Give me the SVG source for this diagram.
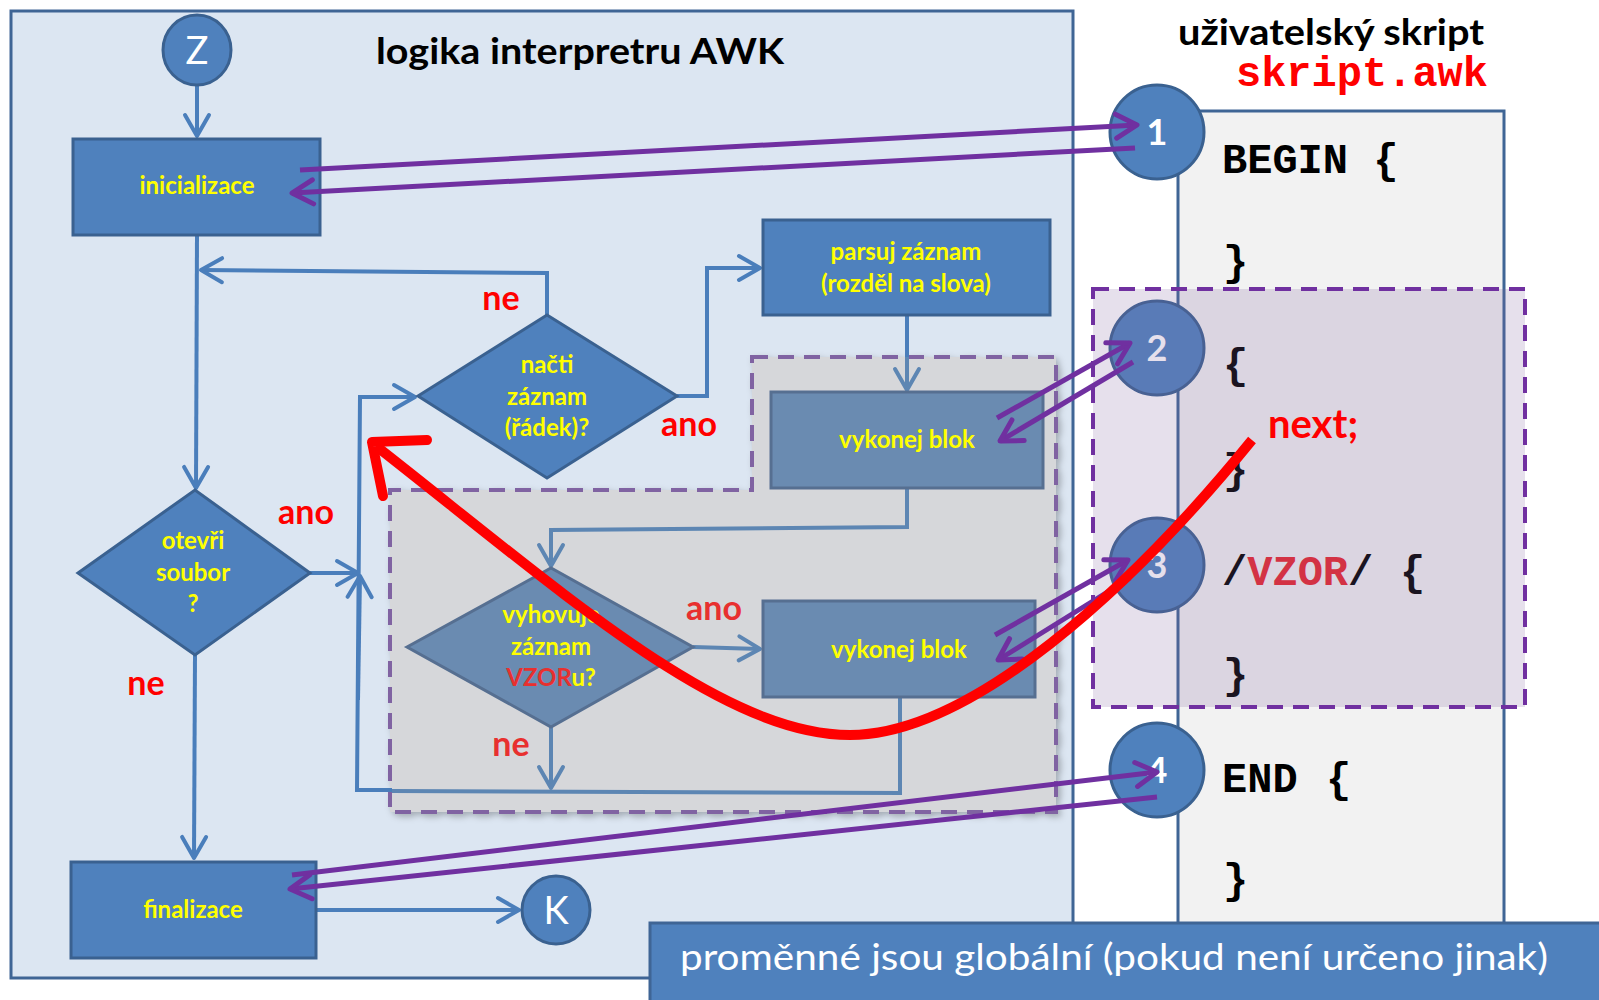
<svg xmlns="http://www.w3.org/2000/svg" width="1599" height="1000" viewBox="0 0 1599 1000">
<defs>
<style>
.bx{fill:#4f81bd;stroke:#3a6190;stroke-width:3}
.bxm{fill:#6a8bb1;stroke:#566f91;stroke-width:3}
.yt{fill:#ffff00;font-family:Lato,"Open Sans",sans-serif;font-weight:bold;font-size:24px;text-anchor:middle}
.rl{fill:#ff0000;font-family:Lato,"Open Sans",sans-serif;font-weight:bold;font-size:34px;text-anchor:middle}
.rlm{fill:#e8302f;font-family:Lato,"Open Sans",sans-serif;font-weight:bold;font-size:34px;text-anchor:middle}
.cl{fill:#4f81bd;stroke:#3a6190;stroke-width:3}
.ct{fill:#ffffff;font-family:Lato,"Open Sans",sans-serif;font-size:38px;text-anchor:middle}
.cn{fill:#ffffff;font-family:Lato,"Open Sans",sans-serif;font-weight:bold;font-size:36px;text-anchor:middle}
.code{fill:#000000;font-family:"Liberation Mono","Courier New",monospace;font-weight:bold;font-size:42px}
.ln{fill:none;stroke:#4a7ebb;stroke-width:4}
.lnm{fill:none;stroke:#5d86b3;stroke-width:4}
.pa{fill:none;stroke:#7030a0;stroke-width:5}
.ttl{fill:#000000;font-family:Lato,"Open Sans",sans-serif;font-weight:bold;font-size:36px}
</style>
<marker id="ab" viewBox="0 0 30 30" refX="27" refY="15" markerWidth="30" markerHeight="30" markerUnits="userSpaceOnUse" orient="auto">
<path d="M6,3 L27,15 L6,27" fill="none" stroke="#4a7ebb" stroke-width="4" stroke-linecap="round" stroke-linejoin="round"/>
</marker>
<marker id="abm" viewBox="0 0 30 30" refX="27" refY="15" markerWidth="30" markerHeight="30" markerUnits="userSpaceOnUse" orient="auto">
<path d="M6,3 L27,15 L6,27" fill="none" stroke="#5d86b3" stroke-width="4" stroke-linecap="round" stroke-linejoin="round"/>
</marker>
<marker id="ap" viewBox="0 0 30 30" refX="27" refY="15" markerWidth="30" markerHeight="30" markerUnits="userSpaceOnUse" orient="auto">
<path d="M6,3 L27,15 L6,27" fill="none" stroke="#7030a0" stroke-width="5" stroke-linecap="round" stroke-linejoin="round"/>
</marker>
<filter id="sh" x="-5%" y="-5%" width="110%" height="110%">
<feDropShadow dx="3" dy="3" stdDeviation="3" flood-color="#000000" flood-opacity="0.25"/>
</filter>
</defs>
<rect width="1599" height="1000" fill="#ffffff"/>
<g id="panel-left">
<rect x="11" y="11" width="1062" height="967" fill="#dce6f2" stroke="#3f6595" stroke-width="3"/>
<text class="ttl" x="376" y="64" textLength="408" lengthAdjust="spacingAndGlyphs">logika interpretru AWK</text>
</g>
<g id="region-inner" filter="url(#sh)">
<path d="M752,357 L1056,357 L1056,812 L390,812 L390,490 L752,490 Z" fill="#d6d7da" stroke="#8064a2" stroke-width="4" stroke-dasharray="16 10"/>
</g>
<g id="connectors">
<path class="ln" d="M197,86 L197,136" marker-end="url(#ab)"/>
<path class="ln" d="M197,235 L196,488" marker-end="url(#ab)"/>
<path class="ln" d="M547,315 L547,273 L201,270" marker-end="url(#ab)"/>
<path class="ln" d="M310,573 L358,573" marker-end="url(#ab)"/>
<path class="ln" d="M392,790 L357,790 L360,397 L415,397" marker-end="url(#ab)"/>
<path class="ln" d="M358,700 L360,576" marker-end="url(#ab)"/>
<path class="ln" d="M195,655 L194,858" marker-end="url(#ab)"/>
<path class="ln" d="M677,396 L707,396 L707,268 L760,268" marker-end="url(#ab)"/>
<path class="ln" d="M907,315 L907,357"/>
<path class="lnm" d="M907,357 L907,390" marker-end="url(#abm)"/>
<path class="lnm" d="M907,488 L907,527 L551,530 L551,566" marker-end="url(#abm)"/>
<path class="lnm" d="M693,647 L760,649" marker-end="url(#abm)"/>
<path class="lnm" d="M551,727 L551,788" marker-end="url(#abm)"/>
<path class="lnm" d="M900,697 L900,793 L392,791"/>
<path class="ln" d="M316,910 L519,910" marker-end="url(#ab)"/>
</g>
<g id="node-Z">
<ellipse class="cl" cx="197" cy="50" rx="34" ry="35"/>
<text class="ct" x="197" y="64">Z</text>
</g>
<g id="node-inicializace">
<rect class="bx" x="73" y="139" width="247" height="96"/>
<text class="yt" x="197" y="194">inicializace</text>
</g>
<g id="node-otevri">
<path class="bx" d="M78,573 L195,490 L310,573 L195,655 Z"/>
<text class="yt" x="193" y="549">otevři</text>
<text class="yt" x="193" y="581">soubor</text>
<text class="yt" x="193" y="612">?</text>
</g>
<g id="node-nacti">
<path class="bx" d="M418,396 L547,315 L677,396 L547,478 Z"/>
<text class="yt" x="547" y="373">načti</text>
<text class="yt" x="547" y="405">záznam</text>
<text class="yt" x="547" y="436">(řádek)?</text>
</g>
<g id="node-parsuj">
<rect class="bx" x="763" y="220" width="287" height="95"/>
<text class="yt" x="906" y="260">parsuj záznam</text>
<text class="yt" x="906" y="292">(rozděl na slova)</text>
</g>
<g id="node-vykonej1">
<rect class="bxm" x="771" y="392" width="272" height="96"/>
<text class="yt" x="907" y="448">vykonej blok</text>
</g>
<g id="node-vyhovuje">
<path class="bxm" d="M407,647 L551,568 L693,647 L551,727 Z"/>
<text class="yt" x="551" y="623">vyhovuje</text>
<text class="yt" x="551" y="655">záznam</text>
<text class="yt" x="551" y="686"><tspan fill="#e8302f">VZOR</tspan>u?</text>
</g>
<g id="node-vykonej2">
<rect class="bxm" x="763" y="601" width="272" height="96"/>
<text class="yt" x="899" y="658">vykonej blok</text>
</g>
<g id="node-finalizace">
<rect class="bx" x="71" y="862" width="245" height="96"/>
<text class="yt" x="193" y="918">finalizace</text>
</g>
<g id="node-K">
<circle class="cl" cx="556" cy="910" r="34"/>
<text class="ct" x="556" y="924">K</text>
</g>
<g id="labels">
<text class="rl" x="501" y="310">ne</text>
<text class="rl" x="689" y="436">ano</text>
<text class="rl" x="306" y="524">ano</text>
<text class="rl" x="146" y="695">ne</text>
<text class="rlm" x="714" y="620">ano</text>
<text class="rlm" x="511" y="756">ne</text>
</g>
<g id="script-panel">
<text class="ttl" x="1178" y="45" textLength="306" lengthAdjust="spacingAndGlyphs">uživatelský skript</text>
<text x="1488" y="86" fill="#ff0000" font-family="'Liberation Mono','Courier New',monospace" font-weight="bold" font-size="42" text-anchor="end">skript.awk</text>
<rect x="1178" y="111" width="326" height="830" fill="#f2f2f2" stroke="#3f6595" stroke-width="3"/>
</g>
<g id="node-1">
<circle class="cl" cx="1157" cy="132" r="47"/>
<text class="cn" x="1157" y="145">1</text>
</g>
<g id="node-2">
<circle class="cl" cx="1157" cy="348" r="47"/>
<text class="cn" x="1157" y="361">2</text>
</g>
<g id="node-3">
<circle class="cl" cx="1157" cy="565" r="47"/>
<text class="cn" x="1157" y="578">3</text>
</g>
<g id="node-4">
<circle class="cl" cx="1157" cy="770" r="47"/>
<text class="cn" x="1157" y="783">4</text>
</g>
<g id="code">
<text class="code" x="1222" y="173">BEGIN {</text>
<text class="code" x="1223" y="275">}</text>
<text class="code" x="1223" y="378">{</text>
<text class="code" x="1223" y="483">}</text>
<text class="code" x="1222" y="585" font-weight="normal">/<tspan fill="#e8262e">VZOR</tspan>/ <tspan x="1400">{</tspan></text>
<text class="code" x="1223" y="688">}</text>
<text class="code" x="1222" y="792">END <tspan x="1326">{</tspan></text>
<text class="code" x="1223" y="893">}</text>
</g>
<g id="region-script">
<rect x="1093" y="289" width="432" height="418" fill="#8064a2" fill-opacity="0.2" stroke="#7030a0" stroke-width="4" stroke-dasharray="16 10"/>
</g>
<g id="purple-connectors">
<path class="pa" d="M300,170 L1137,125" marker-end="url(#ap)"/>
<path class="pa" d="M1135,148 L292,193" marker-end="url(#ap)"/>
<path class="pa" d="M997,418 L1130,343" marker-end="url(#ap)"/>
<path class="pa" d="M1133,362 L1000,441" marker-end="url(#ap)"/>
<path class="pa" d="M995,635 L1128,560" marker-end="url(#ap)"/>
<path class="pa" d="M1130,578 L998,660" marker-end="url(#ap)"/>
<path class="pa" d="M292,875 L1157,772" marker-end="url(#ap)"/>
<path class="pa" d="M1157,797 L290,889" marker-end="url(#ap)"/>
</g>
<g id="next-jump">
<path d="M1252,440 C1130,590 970,735 850,735 C720,735 560,590 376,446" fill="none" stroke="#ff0000" stroke-width="10"/>
<path d="M427,440 L372,442 L383,496" fill="none" stroke="#ff0000" stroke-width="10" stroke-linecap="round" stroke-linejoin="round"/>
<text x="1268" y="438" fill="#ff0000" font-family="Lato,'Open Sans',sans-serif" font-weight="bold" font-size="40">next;</text>
</g>
<g id="note-bar">
<rect x="650" y="923" width="960" height="90" fill="#4f81bd" stroke="#3f6595" stroke-width="3"/>
<text x="680" y="970" fill="#ffffff" font-family="Lato,'Open Sans',sans-serif" font-size="36" textLength="868" lengthAdjust="spacingAndGlyphs">proměnné jsou globální (pokud není určeno jinak)</text>
</g>
</svg>
